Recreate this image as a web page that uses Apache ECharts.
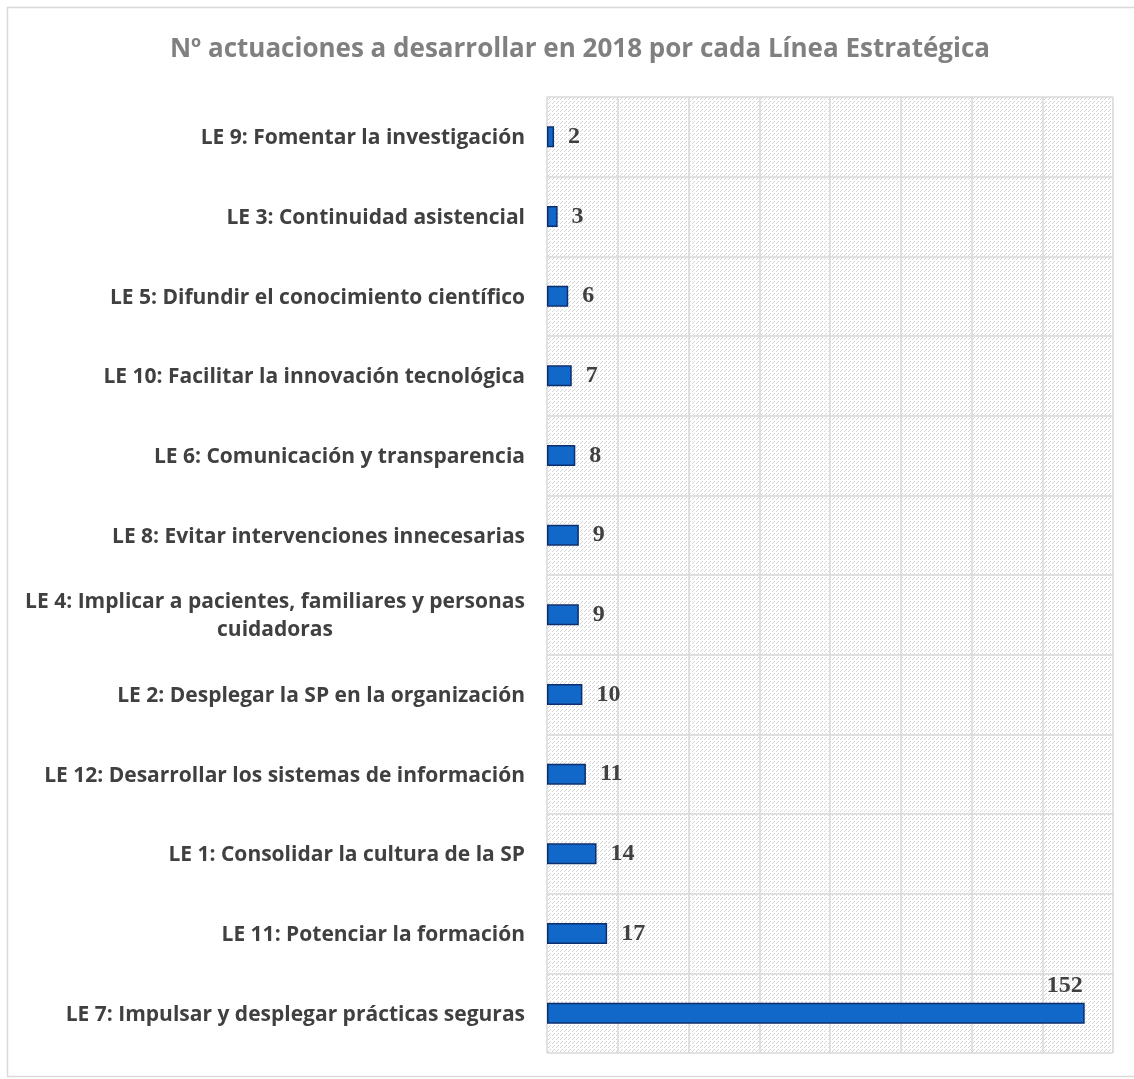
<!DOCTYPE html>
<html>
<head>
<meta charset="utf-8">
<script src="https://cdn.jsdelivr.net/npm/echarts@6/dist/echarts.min.js"></script>
<style>
html, body { margin: 0; padding: 0; background: #fff; }
#app { width: 1134px; height: 1079px; }
</style>
</head>
<body>
<div id="app"></div>
<script>
// datos del gráfico (de arriba a abajo)
var categorias = [
    'LE 9: Fomentar la investigación',
    'LE 3: Continuidad asistencial',
    'LE 5: Difundir el conocimiento científico',
    'LE 10: Facilitar la innovación tecnológica',
    'LE 6: Comunicación y transparencia',
    'LE 8: Evitar intervenciones innecesarias',
    'LE 4: Implicar a pacientes, familiares y personas\ncuidadoras',
    'LE 2: Desplegar la SP en la organización',
    'LE 12: Desarrollar los sistemas de información',
    'LE 1: Consolidar la cultura de la SP',
    'LE 11: Potenciar la formación',
    'LE 7: Impulsar y desplegar prácticas seguras'
];
var actuaciones = [2, 3, 6, 7, 8, 9, 9, 10, 11, 14, 17, 152];
var ticksX = [0, 20, 40, 60, 80, 100, 120, 140, 160];

var fuente = '"Open Sans", Lato, sans-serif';
var fuenteNum = '"Liberation Serif", "DejaVu Serif", serif';

// trama de fondo (diagonal discontinua)
var trama = document.createElement('canvas');
trama.width = 8;
trama.height = 8;
var ctx = trama.getContext('2d');
ctx.fillStyle = '#ffffff';
ctx.fillRect(0, 0, 8, 8);
ctx.fillStyle = '#d4d4d4';
for (var i = 0; i < 8; i++) {
    if (i % 4 === 3) continue;
    ctx.fillRect(i, 7 - i, 1, 1);
    ctx.fillRect((i + 4) % 8, 7 - i, 1, 1);
}

// para centrar la etiqueta de dos líneas
var medidor = document.createElement('canvas').getContext('2d');
medidor.font = 'bold 21px ' + fuente;

var myEchart = echarts.init(document.getElementById('app'));

myEchart.setOption({
    animation: false,
    title: {
        text: 'Nº actuaciones a desarrollar en 2018 por cada Línea Estratégica',
        left: 575,
        top: 32,
        textAlign: 'center',
        textStyle: {
            fontFamily: fuente,
            fontSize: 26,
            fontWeight: 'bold',
            color: '#808080'
        }
    },
    graphic: [{
        type: 'rect',
        shape: { x: 7.5, y: 7.5, width: 1140, height: 1069 },
        style: { fill: 'none', stroke: '#d9d9d9', lineWidth: 1.5 },
        silent: true
    }],
    grid: {
        left: 547,
        right: 21,
        top: 97,
        bottom: 26,
        show: true,
        borderWidth: 0,
        backgroundColor: { image: trama, repeat: 'repeat' }
    },
    xAxis: {
        type: 'value',
        min: ticksX[0],
        max: ticksX[ticksX.length - 1],
        interval: ticksX[1] - ticksX[0],
        axisLabel: { show: false },
        axisTick: { show: false },
        axisLine: { show: false },
        splitLine: { show: true, lineStyle: { color: '#d9d9d9', width: 1.5 } }
    },
    yAxis: {
        type: 'category',
        inverse: true,
        data: categorias,
        axisTick: { show: false },
        axisLine: { show: false },
        splitLine: { show: true, lineStyle: { color: '#d9d9d9', width: 1.5 } },
        axisLabel: {
            margin: 22,
            fontFamily: fuente,
            fontSize: 21,
            fontWeight: 'bold',
            color: '#404040',
            lineHeight: 28,
            padding: [3, 0, 0, 0],
            formatter: function (v) {
                if (v.indexOf('\n') >= 0) {
                    var partes = v.split('\n');
                    return '{c|' + partes[0] + '}\n{c|' + partes[1] + '}';
                }
                return v;
            },
            rich: {
                c: {
                    width: Math.ceil(medidor.measureText(categorias[6].split('\n')[0]).width),
                    align: 'center',
                    fontFamily: fuente,
                    fontSize: 21,
                    fontWeight: 'bold',
                    color: '#404040',
                    lineHeight: 28
                }
            }
        }
    },
    series: [{
        type: 'bar',
        data: actuaciones.map(function (v, idx) {
            if (idx === actuaciones.length - 1) {
                return {
                    value: v,
                    label: {
                        position: ['100%', -5],
                        align: 'right',
                        verticalAlign: 'bottom',
                        offset: [-2, 0]
                    }
                };
            }
            return v;
        }),
        barWidth: 21,
        itemStyle: {
            color: '#1168c8',
            borderColor: '#0e2f6e',
            borderWidth: 1.5
        },
        label: {
            show: true,
            position: 'right',
            distance: 14,
            fontFamily: fuenteNum,
            fontSize: 24,
            fontWeight: 'bold',
            color: '#404040'
        }
    }]
});
</script>
</body>
</html>
